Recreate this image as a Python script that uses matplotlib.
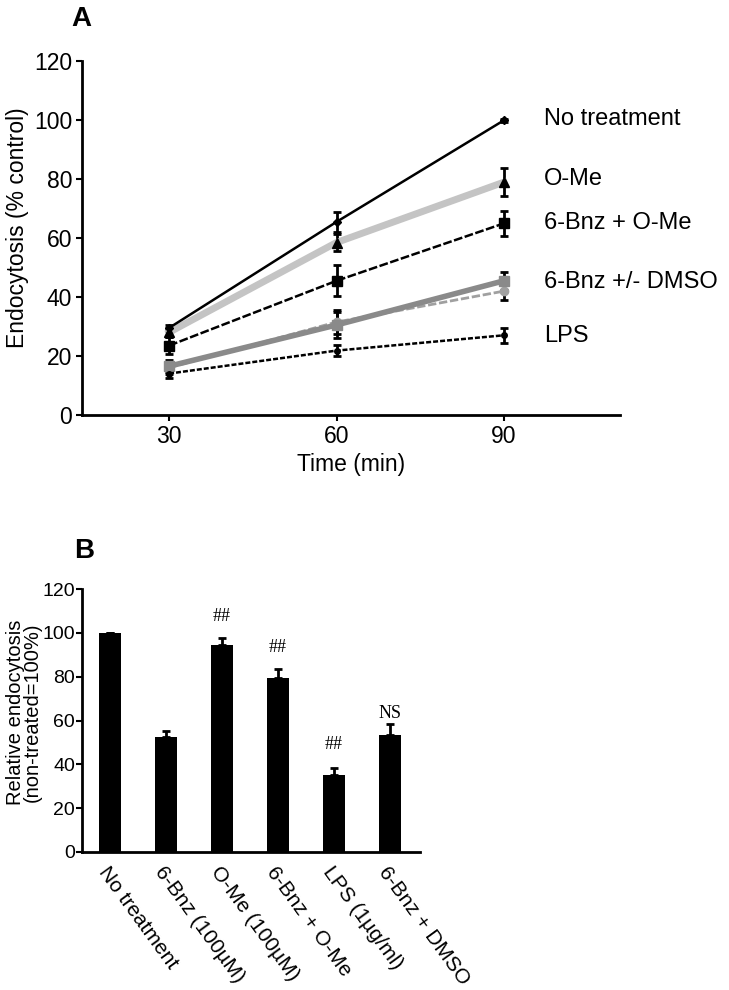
import matplotlib
matplotlib.use("Agg")
import matplotlib.pyplot as plt

plt.rcParams['font.family'] = ['Liberation Sans', 'DejaVu Sans']

# panel A: endocytosis over time
times = [30, 60, 90]
no_treat = [29.5, 65.5, 100]
no_treat_err = [1.0, 3.4, 0.5]
ome = [28, 58.5, 79]
ome_err = [1.5, 3.0, 4.7]
bnz_ome = [23.5, 45.5, 65]
bnz_ome_err = [3.0, 5.2, 4.2]
bnz = [16.5, 30.5, 45.5]
bnz_err = [2.0, 4.5, 3.0]
dmso = [16, 31.5, 42]
dmso_err = [2.0, 4.0, 3.0]
lps = [14, 21.8, 27]
lps_err = [1.5, 2.0, 2.5]
series_labels = ["No treatment", "O-Me", "6-Bnz + O-Me", "6-Bnz +/- DMSO", "LPS"]
label_y = [100.5, 80, 65, 45, 26.6]

# panel B: relative endocytosis at 90 min
bar_names = ["No treatment", "6-Bnz (100\u00b5M)", "O-Me (100\u00b5M)",
             "6-Bnz + O-Me", "LPS (1\u00b5g/ml)", "6-Bnz + DMSO"]
bar_vals = [100, 52.3, 94.3, 79.6, 35, 53.6]
bar_err = [0, 3, 3.5, 3.8, 3.5, 4.8]
bar_marks = ["", "", "##", "##", "##", "NS"]
mark_y = [0, 0, 107.5, 93.5, 49, 63]

fig = plt.figure(figsize=(7.29, 9.9), dpi=100)

# ---- panel A
ax = fig.add_axes([0.1125, 0.581, 0.738, 0.357])
eb = dict(capsize=3, elinewidth=2, capthick=2, ecolor="black")
ax.errorbar(times, dmso, yerr=dmso_err, color="#a0a0a0", lw=2, ls=(0, (3, 1)),
            marker="o", ms=6, **eb)
ax.errorbar(times, bnz, yerr=bnz_err, color="#8a8a8a", lw=4,
            marker="s", ms=7, **eb)
ax.errorbar(times, lps, yerr=lps_err, color="black", lw=1.8, ls=(0, (2, 0.8)),
            marker="o", ms=4, **eb)
ax.errorbar(times, bnz_ome, yerr=bnz_ome_err, color="black", lw=1.8,
            ls=(0, (3.5, 1)), marker="s", ms=7, **eb)
ax.errorbar(times, ome, yerr=ome_err, color="#c4c4c4", lw=5,
            marker="^", ms=7, mfc="black", mec="black", **eb)
ax.errorbar(times, no_treat, yerr=no_treat_err, color="black", lw=1.8,
            marker="D", ms=4, **eb)

for lab, yy in zip(series_labels, label_y):
    ax.text(97.2, yy, lab, fontsize=17, va="center", ha="left")

ax.set_xlim(14.4, 110.8)
ax.set_ylim(0, 120)
ax.set_xticks(times)
ax.set_yticks(range(0, 121, 20))
ax.spines["top"].set_visible(False)
ax.spines["right"].set_visible(False)
ax.spines["left"].set_linewidth(2)
ax.spines["bottom"].set_linewidth(2)
ax.tick_params(width=1.5, length=4, labelsize=16.5, pad=3)
ax.set_xlabel("Time (min)", fontsize=16.5, labelpad=4)
ax.set_ylabel("Endocytosis (% control)", fontsize=16.5)
ax.yaxis.set_label_coords(-0.098, 0.53)
fig.text(0.111, 0.981, "A", fontsize=20, fontweight="bold", ha="center", va="center")

# ---- panel B
bx = fig.add_axes([0.1125, 0.1394, 0.464, 0.2656])
xs = range(len(bar_vals))
bx.bar(xs, bar_vals, width=0.39, color="black")
bx.errorbar(xs, bar_vals, yerr=[[0] * len(bar_err), bar_err], fmt="none",
            ecolor="black", elinewidth=2, capsize=3, capthick=2)
for x, m, yy in zip(xs, bar_marks, mark_y):
    if m:
        bx.text(x, yy, m, fontsize=13, ha="center", va="center",
                family=["Liberation Serif", "DejaVu Serif"])
bx.set_xlim(-0.5, 5.54)
bx.set_ylim(0, 120)
bx.set_yticks(range(0, 121, 20))
bx.set_xticks(list(xs))
bx.set_xticklabels(bar_names, rotation=-54, ha="left", va="top",
                   rotation_mode="anchor", fontsize=15)
bx.spines["top"].set_visible(False)
bx.spines["right"].set_visible(False)
bx.spines["left"].set_linewidth(2)
bx.spines["bottom"].set_linewidth(2)
bx.tick_params(axis="x", length=0, pad=8)
bx.tick_params(axis="y", width=1.5, length=4, labelsize=14, pad=1)
bx.set_ylabel("Relative endocytosis\n(non-treated=100%)", fontsize=14.5,
              linespacing=0.9)
bx.yaxis.set_label_coords(-0.118, 0.53)
fig.text(0.116, 0.443, "B", fontsize=20, fontweight="bold", ha="center", va="center")

fig.savefig("out.png", dpi=100)
